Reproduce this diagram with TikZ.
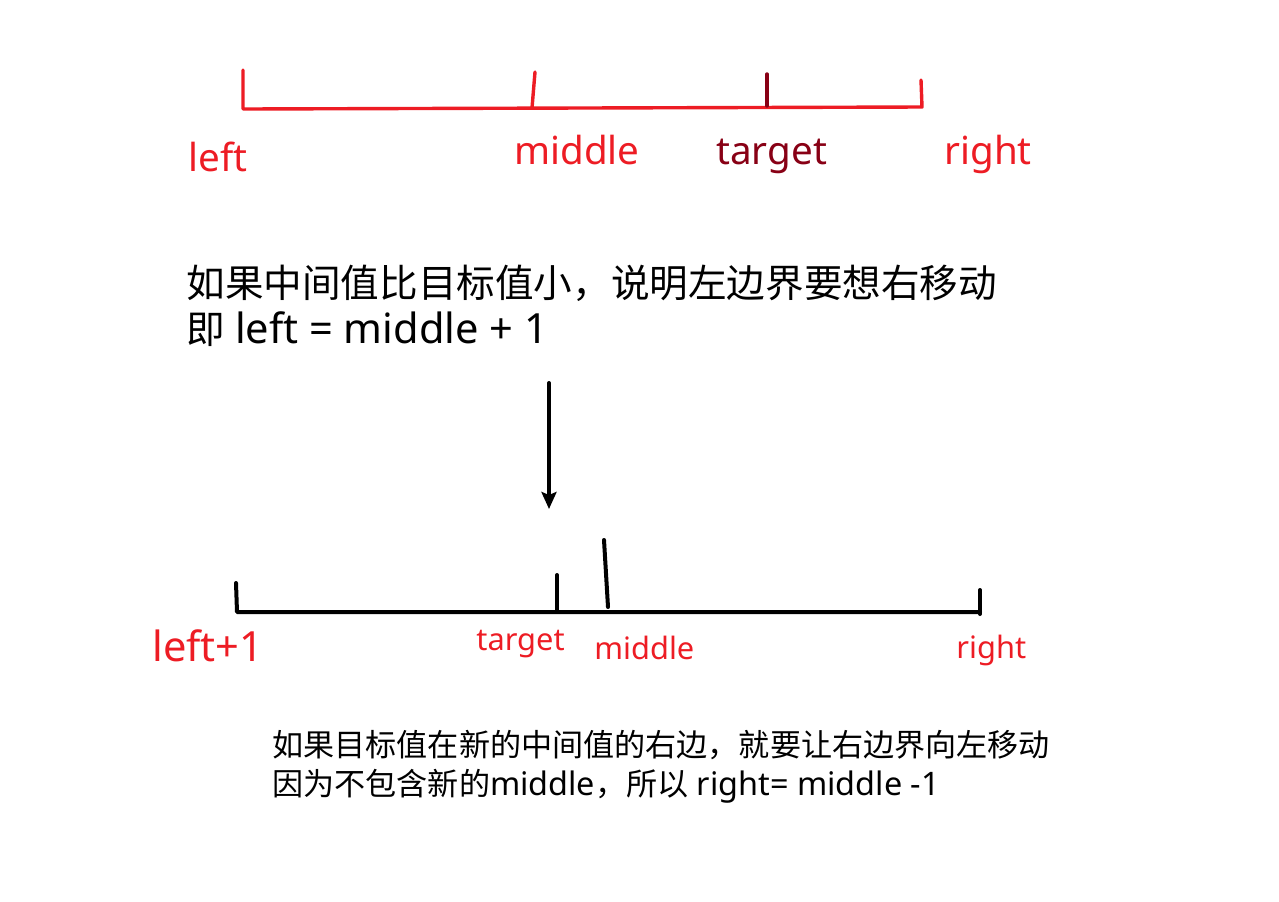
\documentclass[tikz,border=0pt]{standalone}
\usepackage{fontspec}
\setmainfont{Noto Sans}
\newfontfamily\cjk{Noto Sans CJK SC}
\usepackage{xcolor}
\usetikzlibrary{arrows.meta,positioning}
\definecolor{paintred}{HTML}{ED1C24}
\definecolor{paintdark}{HTML}{880015}

\begin{document}
\begin{tikzpicture}[x=0.5pt,y=-0.5pt,
  redbar/.style={line width=1.7pt, paintred, line cap=round, line join=round},
  blackbar/.style={line width=2pt, black, line cap=round, line join=round},
  biglbl/.style={font=\fontsize{19.3}{23}\selectfont, inner sep=0pt, anchor=base west},
  smalllbl/.style={font=\fontsize{15.4}{18}\selectfont, inner sep=0pt, anchor=base west, paintred},
  note/.style={font=\fontsize{16.2}{19}\selectfont, inner sep=0pt, anchor=base west}]
\useasboundingbox (0,0) rectangle (1279,901);

% First range: left .. right
\draw[redbar] (243,70) -- (243,109) -- (922,107) -- (921,80);
\draw[redbar] (535,72) -- (532,108);
\draw[redbar, paintdark] (767,74) -- (767,106);
\node[biglbl, paintred] (lblLeft) at (188,171) {left};
\node[biglbl, paintred] (lblMiddle) at (514,164) {middle};
\node[biglbl, paintdark] (lblTarget) at (716,164) {target};
\node[biglbl, paintred] (lblRight) at (944,164) {right};

% Explanation
\node[biglbl] (noteA1) at (186,297) {\cjk 如果中间值比目标值小，说明左边界要想右移动};
\node[biglbl] (noteA2) at (186,343) {{\cjk 即} \fontsize{20.8}{24}\selectfont left = middle + 1};

% Step arrow
\coordinate (arrTop) at (549,383);
\coordinate (arrEnd) at (549,509);
\draw[-{Stealth[length=8.5pt,width=7.5pt,inset=1.5pt]}, line width=2pt, line cap=round] (arrTop) -- (arrEnd);

% Second range: left+1 .. right
\draw[blackbar] (236,583) -- (237,612) -- (980,612);
\draw[blackbar] (980,590) -- (980,614);
\draw[blackbar] (557,575) -- (557,610);
\draw[blackbar] (604,540) -- (608,607);
\node[biglbl, paintred, font=\fontsize{20.8}{24}\selectfont] (lblLeftB) at (152,661) {left+1};
\node[smalllbl] (lblTargetB) at (476,650) {target};
\node[smalllbl] (lblMiddleB) at (594,659) {middle};
\node[smalllbl] (lblRightB) at (956,658) {right};

% Explanation
\node[note] (noteB1) at (272,756) {\cjk\fontsize{15.55}{19}\selectfont 如果目标值在新的中间值的右边，就要让右边界向左移动};
\node[note] (noteB2) at (272,795) {{\cjk\fontsize{15.55}{19}\selectfont 因为不包含新的}middle{\cjk\fontsize{15.55}{19}\selectfont ，所以} right= middle -1};
\end{tikzpicture}
\end{document}
